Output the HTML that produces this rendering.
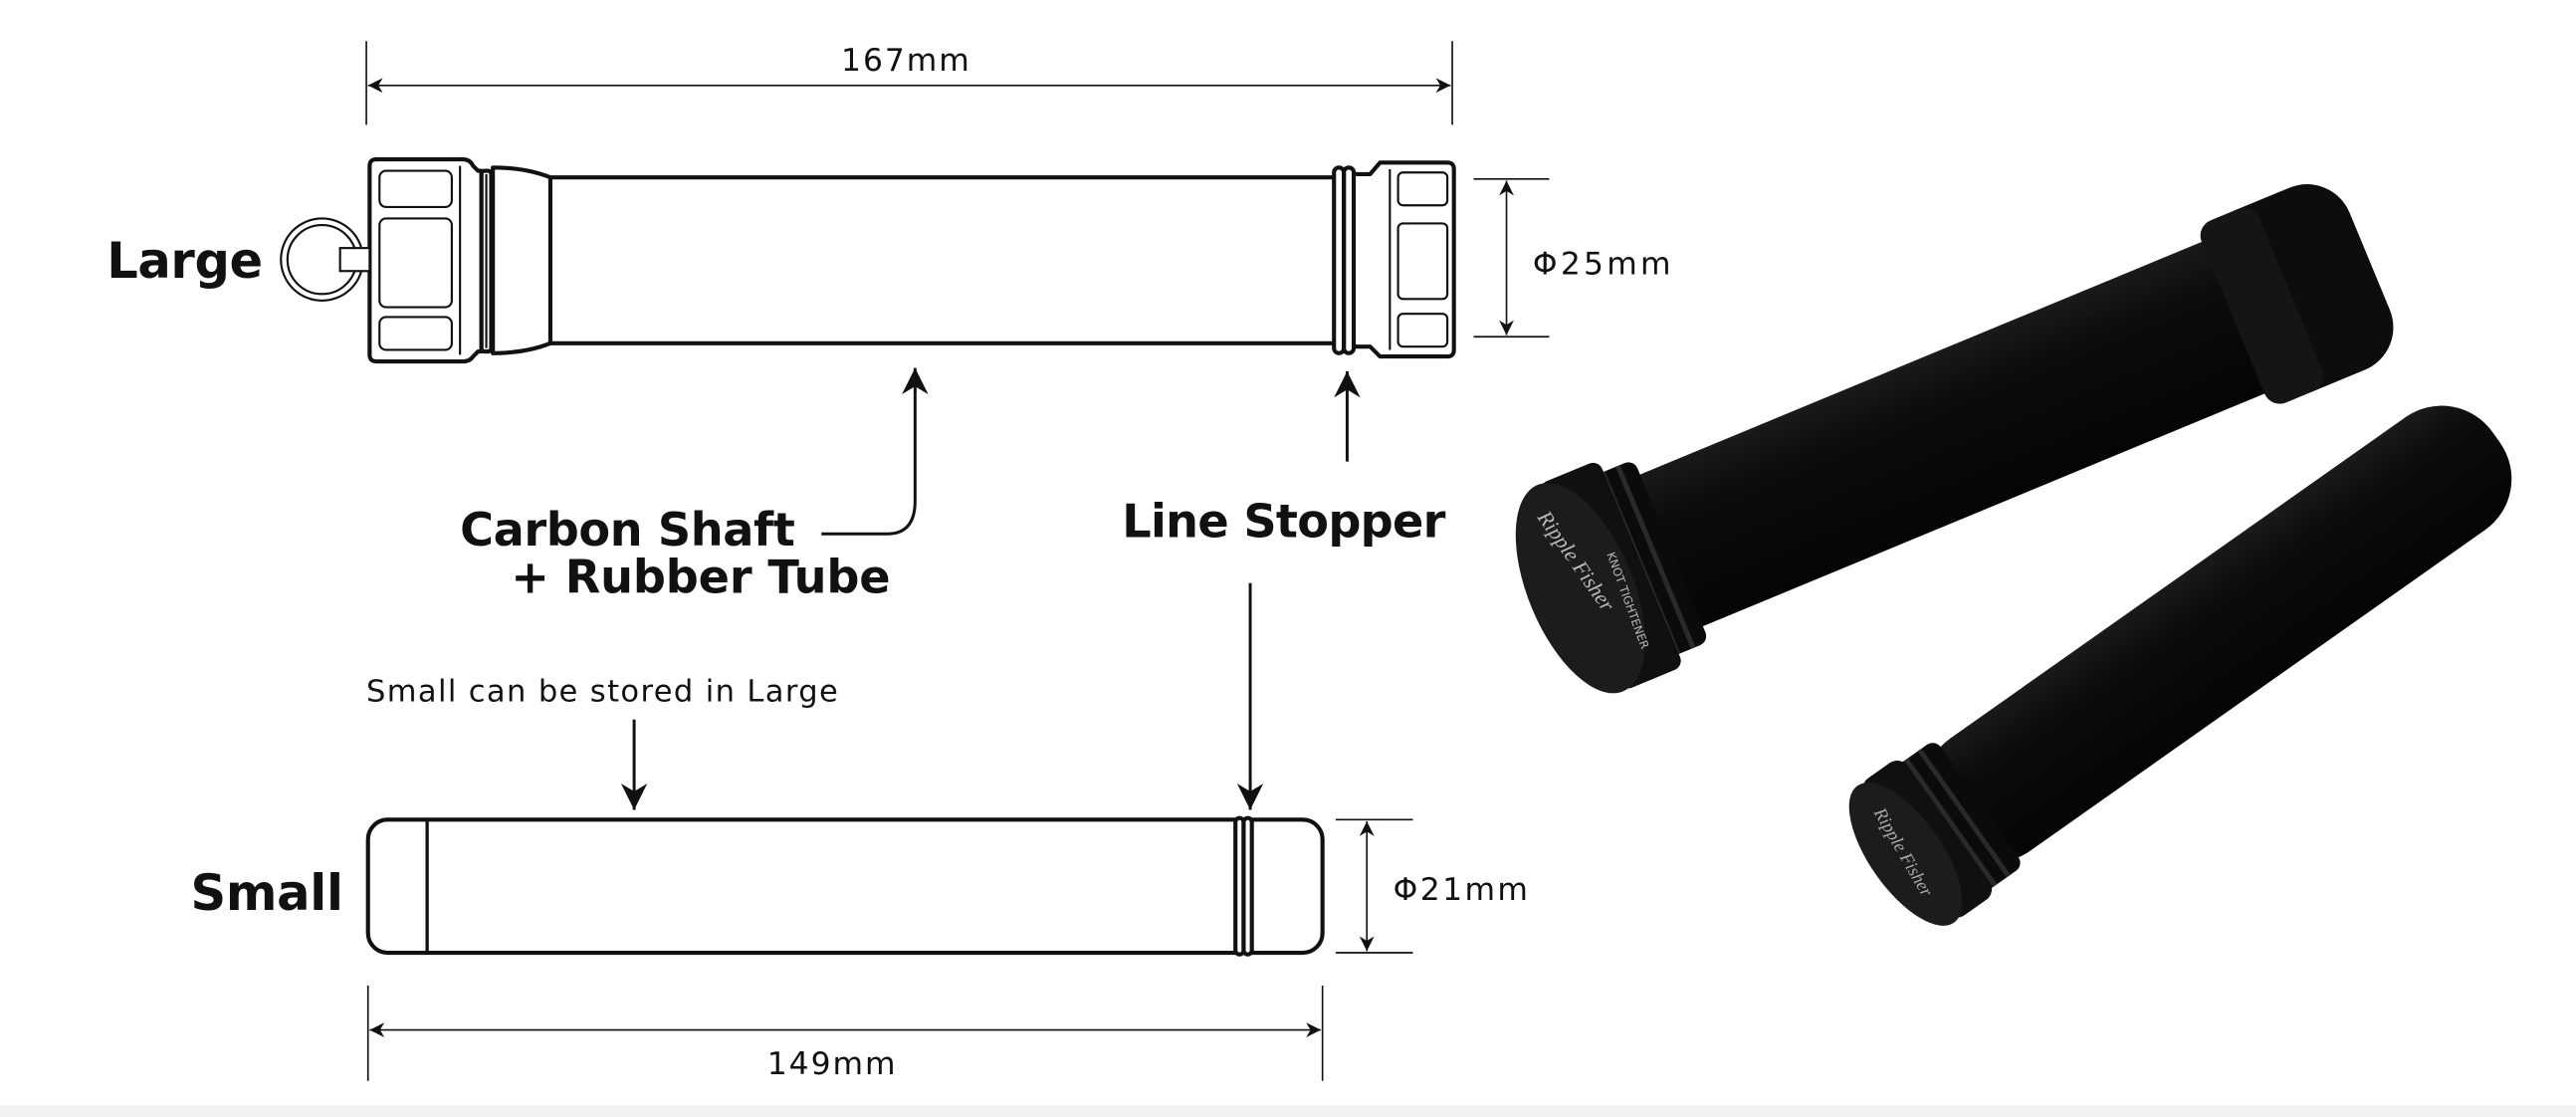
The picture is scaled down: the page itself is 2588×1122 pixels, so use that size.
<!DOCTYPE html>
<html><head><meta charset="utf-8"><style>
html,body{margin:0;padding:0;background:#fff;}
svg{display:block;}
text{font-family:"DejaVu Sans","Liberation Sans",sans-serif;fill:#111;}
.b{font-weight:bold;}
</style></head><body>
<svg width="2588" height="1122" viewBox="0 0 1568 680" preserveAspectRatio="none" xmlns="http://www.w3.org/2000/svg">
<defs>
<marker id="ah" viewBox="0 0 10 10" refX="10" refY="5" markerWidth="9" markerHeight="9" markerUnits="userSpaceOnUse" orient="auto-start-reverse"><path d="M0,0 L10,5 L0,10 L3,5 z" fill="#111"/></marker>
<marker id="ahb" viewBox="0 0 10 10" refX="10" refY="5" markerWidth="24" markerHeight="16" markerUnits="userSpaceOnUse" orient="auto"><path d="M0,0 L10,5 L0,10 L3,5 z" fill="#111"/></marker>
<linearGradient id="gl" x1="0" y1="0" x2="0" y2="1"><stop offset="0" stop-color="#1a1a1a"/><stop offset="0.3" stop-color="#0c0c0c"/><stop offset="1" stop-color="#050505"/></linearGradient>
</defs>
<rect x="0" y="0" width="1568" height="680" fill="#fff"/>
<rect x="0" y="673" width="1568" height="7" fill="#f2f2f2"/>

<g stroke="#111" stroke-width="1">
<line x1="223" y1="25" x2="223" y2="76"/><line x1="884" y1="25" x2="884" y2="76"/>
<line x1="224" y1="52" x2="883" y2="52" marker-start="url(#ah)" marker-end="url(#ah)"/>
</g>
<text x="551" y="43" font-size="19" text-anchor="middle" textLength="78">167mm</text>

<g fill="none" stroke="#111" stroke-width="2.5" stroke-linejoin="round">
<path d="M229,97 L282,97 Q286,97 288,101 L291,104 L293,104 L293,214 L291,214 L288,217 Q286,220 282,220 L229,220 Q225,220 225,216 L225,101 Q225,97 229,97 Z"/>
<rect x="293" y="104" width="6" height="110" rx="2"/>
<path d="M300,102 Q320,102 335,108 L335,209 Q320,215 300,215 Z"/>
<line x1="335" y1="108" x2="812" y2="108"/>
<line x1="335" y1="209" x2="812" y2="209"/>
<rect x="812" y="102" width="6" height="113" rx="3"/>
<rect x="818" y="102" width="6" height="113" rx="3"/>
<path d="M824,106 L834,106 L840,99 L881,99 Q885,99 885,103 L885,213 Q885,217 881,217 L840,217 L834,211 L824,211"/>
</g>
<g fill="none" stroke="#111" stroke-width="1.3">
<rect x="231" y="104" width="44" height="22" rx="4"/>
<rect x="231" y="133" width="44" height="54" rx="4"/>
<rect x="231" y="193" width="44" height="20" rx="4"/>
<line x1="280" y1="101" x2="280" y2="216"/>
<line x1="296" y1="106" x2="296" y2="212"/>
<rect x="851" y="105" width="30" height="20" rx="3"/>
<rect x="851" y="136" width="30" height="46" rx="3"/>
<rect x="851" y="191" width="30" height="20" rx="3"/>
<line x1="846" y1="103" x2="846" y2="213"/>
<ellipse cx="196" cy="158" rx="25" ry="25"/>
<ellipse cx="196" cy="158" rx="21" ry="21"/>
<rect x="207" y="151" width="18" height="14" fill="#fff"/>
</g>
<text x="65" y="169" font-size="30" class="b" textLength="95">Large</text>

<g stroke="#111" stroke-width="1">
<line x1="897" y1="109" x2="943" y2="109"/><line x1="897" y1="205" x2="943" y2="205"/>
<line x1="917" y1="110" x2="917" y2="204" marker-start="url(#ah)" marker-end="url(#ah)"/>
</g>
<text x="933" y="167" font-size="19" textLength="84">Φ25mm</text>

<path d="M500,325 L540,325 Q557,325 557,305 L557,224" fill="none" stroke="#111" stroke-width="1.8" marker-end="url(#ahb)"/>
<line x1="820" y1="281" x2="820" y2="226" stroke="#111" stroke-width="1.8" marker-end="url(#ahb)"/>
<text x="280" y="332" font-size="28" class="b" textLength="204">Carbon Shaft</text>
<text x="311" y="361" font-size="28" class="b" textLength="231">+ Rubber Tube</text>
<text x="683" y="327" font-size="28" class="b" textLength="197">Line Stopper</text>
<line x1="761" y1="355" x2="761" y2="493" stroke="#111" stroke-width="1.8" marker-end="url(#ahb)"/>

<text x="223" y="427" font-size="18.5" textLength="287">Small can be stored in Large</text>
<line x1="386" y1="438" x2="386" y2="493" stroke="#111" stroke-width="1.8" marker-end="url(#ahb)"/>

<g fill="none" stroke="#111" stroke-width="2.5">
<rect x="224" y="499" width="581" height="81" rx="12"/>
<line x1="260" y1="500" x2="260" y2="579" stroke-width="2"/>
<rect x="752" y="498" width="5" height="83" rx="2.5" fill="#fff"/>
<rect x="757" y="498" width="5" height="83" rx="2.5" fill="#fff"/>
</g>
<text x="116" y="554" font-size="30" class="b" textLength="93">Small</text>

<g stroke="#111" stroke-width="1">
<line x1="813" y1="499" x2="860" y2="499"/><line x1="813" y1="580" x2="860" y2="580"/>
<line x1="832" y1="500" x2="832" y2="579" marker-start="url(#ah)" marker-end="url(#ah)"/>
</g>
<text x="848" y="548" font-size="19" textLength="82">Φ21mm</text>

<g stroke="#111" stroke-width="1">
<line x1="224" y1="600" x2="224" y2="658"/><line x1="805" y1="600" x2="805" y2="658"/>
<line x1="225" y1="627" x2="804" y2="627" marker-start="url(#ah)" marker-end="url(#ah)"/>
</g>
<text x="506" y="654" font-size="19" text-anchor="middle" textLength="78">149mm</text>

<!-- Photo: large tube -->
<g transform="translate(962,358) rotate(-22.5)">
<rect x="30" y="-50" width="450" height="100" rx="8" fill="url(#gl)"/>
<rect x="430" y="-60" width="90" height="120" rx="28" fill="#0d0d0d"/>
<rect x="430" y="-60" width="38" height="120" rx="10" fill="#151515"/>
<rect x="30" y="-60" width="30" height="120" rx="6" fill="#0b0b0b"/>
<rect x="38" y="-60" width="3" height="120" fill="#2a2a2a"/>
<rect x="48" y="-60" width="3" height="120" fill="#2a2a2a"/>
<rect x="0" y="-68" width="40" height="136" rx="6" fill="#101010"/>
<ellipse cx="0" cy="0" rx="32" ry="68" fill="#1c1c1c"/>
</g>
<text x="925" y="325" font-size="13" style="fill:#bbb;font-family:'Liberation Serif',serif;font-style:italic" transform="rotate(55 940 330)">Ripple Fisher</text>
<text x="948" y="340" font-size="7" style="fill:#bbb" transform="rotate(70 965 360)">KNOT TIGHTENER</text>

<!-- Photo: small tube -->
<g transform="translate(1160,520) rotate(-35.2)">
<rect x="25" y="-42" width="415" height="84" rx="38" fill="url(#gl)"/>
<rect x="25" y="-47" width="30" height="94" rx="6" fill="#0b0b0b"/>
<rect x="32" y="-47" width="3" height="94" fill="#2a2a2a"/>
<rect x="42" y="-47" width="3" height="94" fill="#2a2a2a"/>
<rect x="0" y="-51" width="32" height="102" rx="8" fill="#101010"/>
<ellipse cx="0" cy="0" rx="22" ry="51" fill="#1c1c1c"/>
</g>
<text x="1120" y="500" font-size="11" style="fill:#aaa;font-family:'Liberation Serif',serif;font-style:italic" transform="rotate(60 1135 515)">Ripple Fisher</text>
</svg>
</body></html>
